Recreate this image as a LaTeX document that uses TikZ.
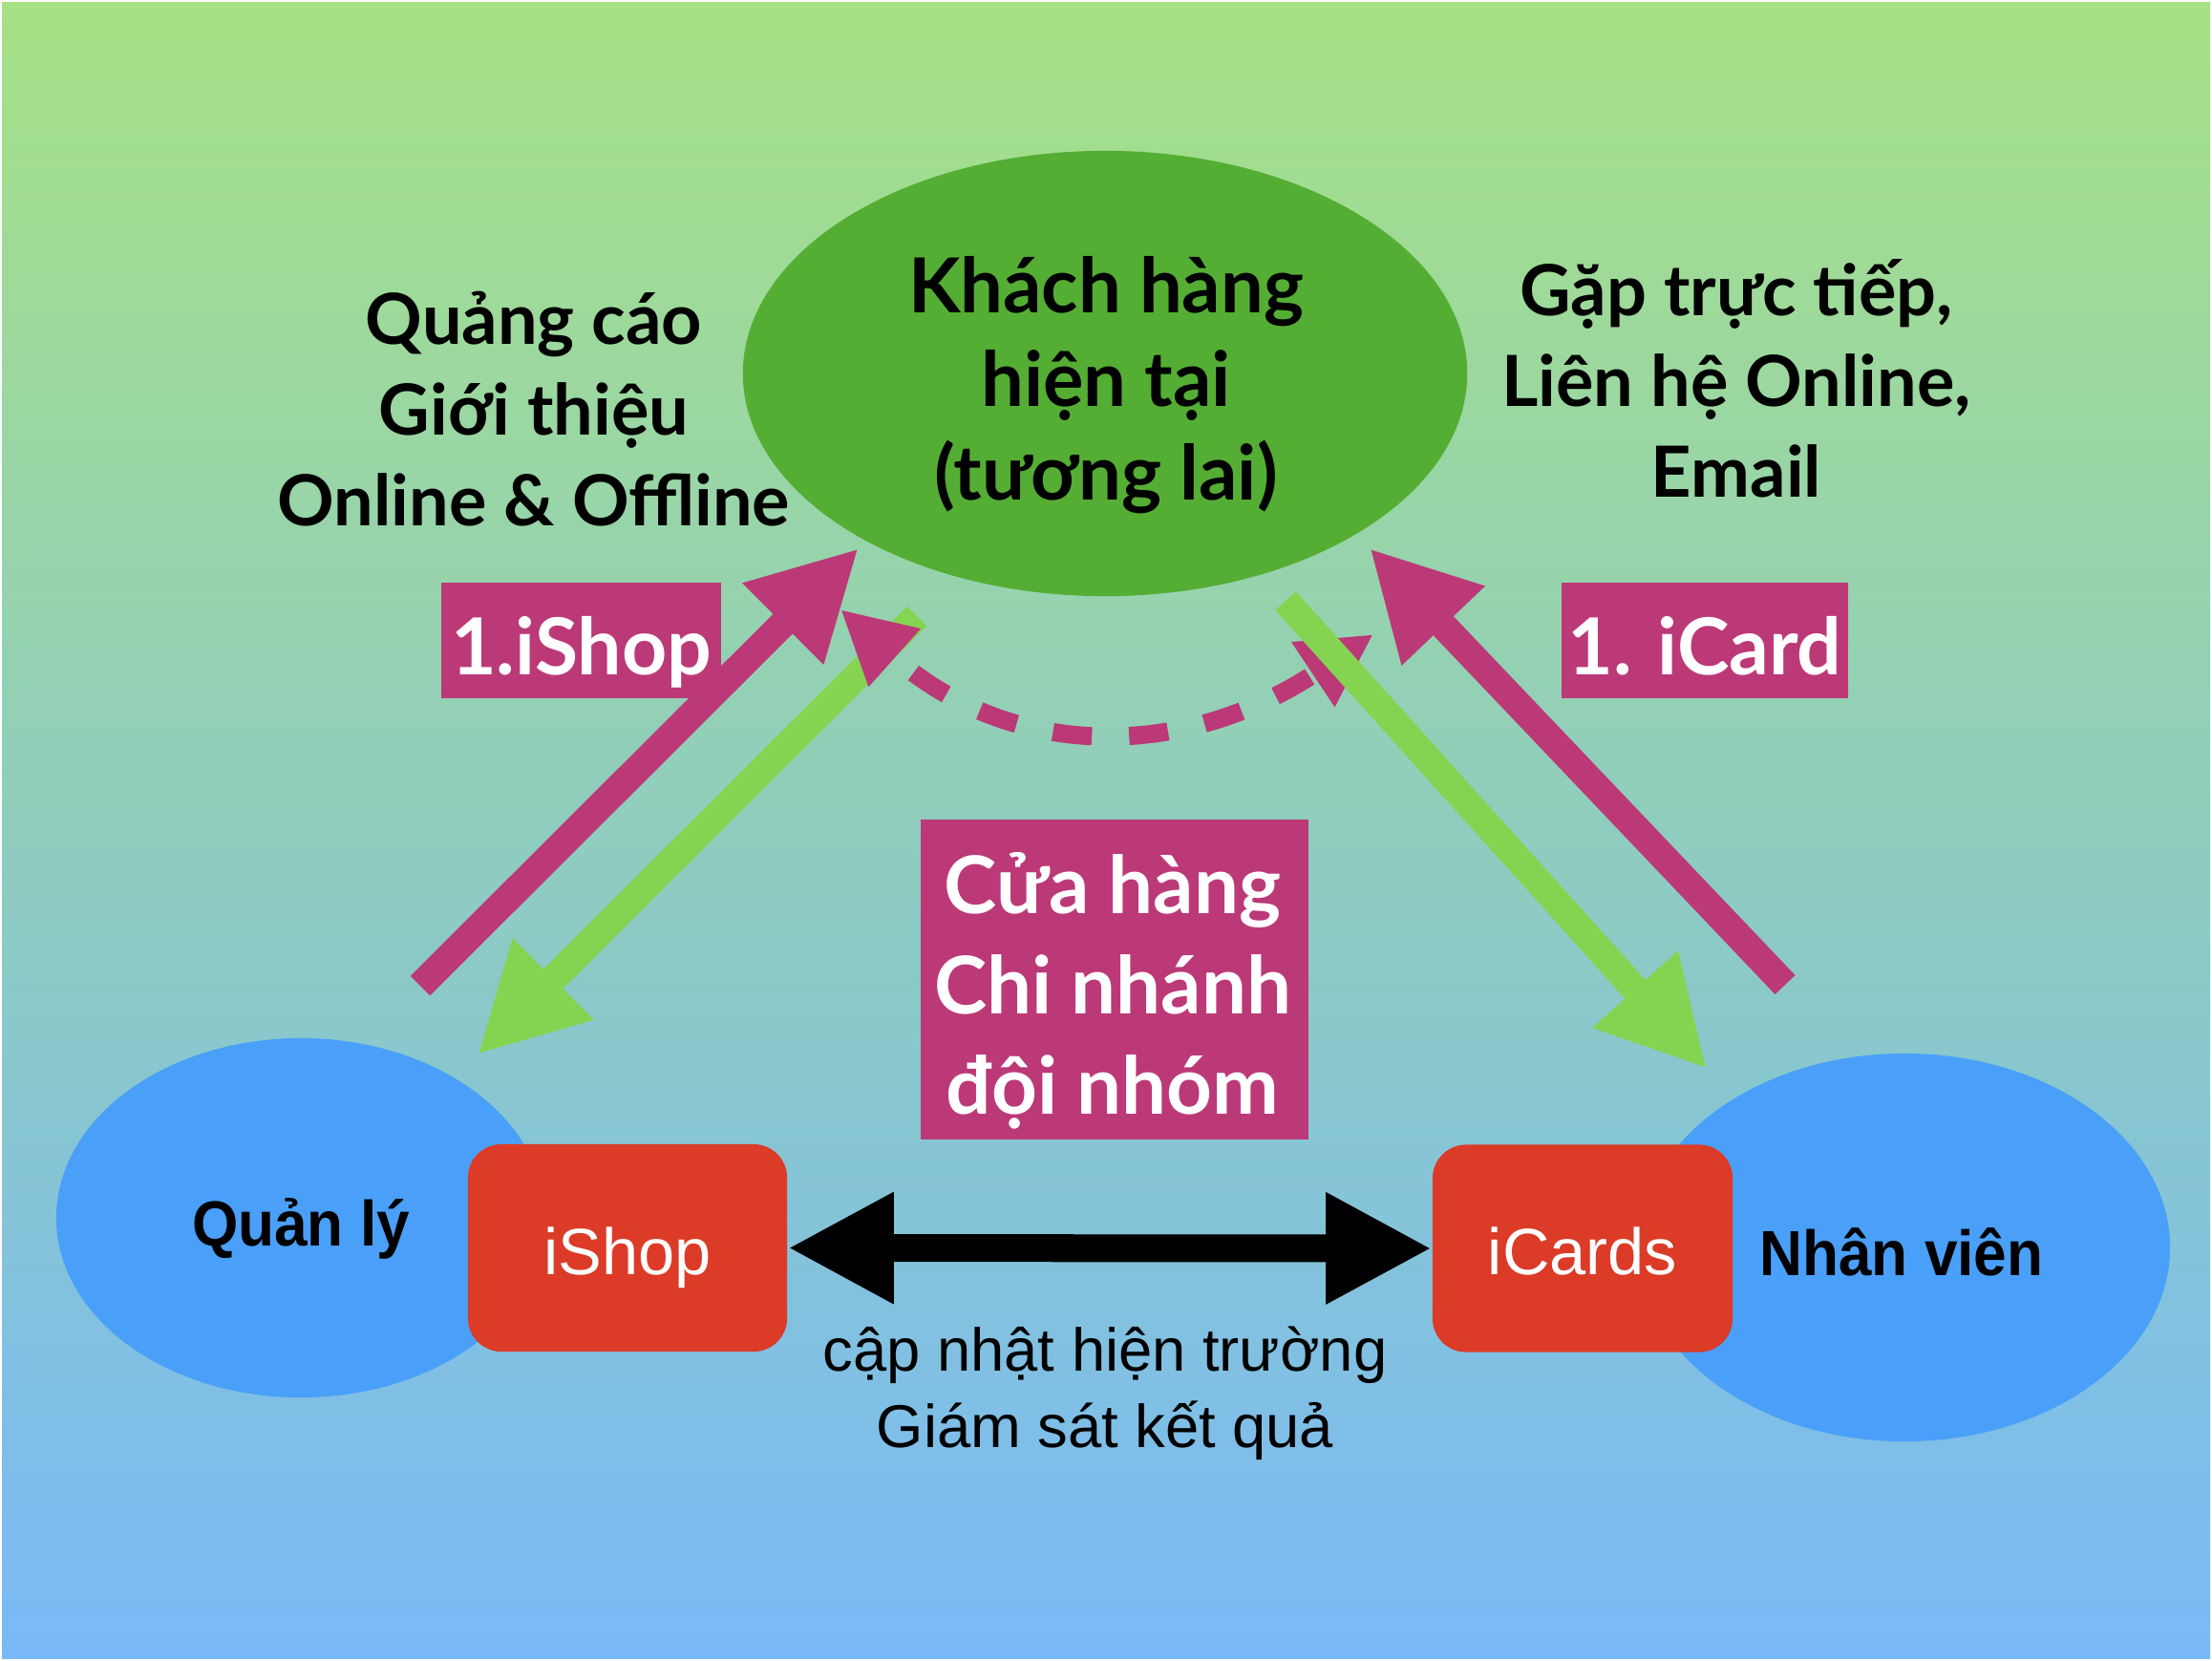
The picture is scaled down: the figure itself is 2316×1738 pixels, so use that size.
\documentclass[tikz,border=0pt]{standalone}
\usepackage{fontspec}
\setmainfont{Lato}
\newfontfamily\helv{Liberation Sans}
\newfontfamily\helvn[FakeStretch=0.93]{Liberation Sans}
\usetikzlibrary{arrows.meta,shapes.geometric}

\definecolor{bgtop}{RGB}{166,225,133}
\definecolor{bgbot}{RGB}{121,185,247}
\definecolor{kgreen}{RGB}{85,174,52}
\definecolor{lgreen}{RGB}{132,212,82}
\definecolor{kblue}{RGB}{74,160,248}
\definecolor{kred}{RGB}{219,59,39}
\definecolor{kpink}{RGB}{188,57,120}

\tikzset{
	blob/.style={ellipse,inner sep=0pt,draw=none},
	bigtxt/.style={font=\fontsize{22.6}{27}\selectfont\bfseries,anchor=base,inner sep=0pt},
	midtxt/.style={font=\fontsize{21}{25}\selectfont\bfseries,anchor=base,inner sep=0pt},
	boxtxt/.style={font=\fontsize{23.7}{28}\selectfont\bfseries,text=white,anchor=base,inner sep=0pt},
	roletxt/.style={font=\helvn\bfseries\fontsize{19}{23}\selectfont,anchor=base,inner sep=0pt},
	notetxt/.style={font=\helv\fontsize{18}{22}\selectfont,anchor=base,inner sep=0pt},
	app/.style={fill=kred,rounded corners=0.35cm,minimum height=2.17cm,text=white,
		font=\helv\fontsize{19.5}{23}\selectfont,text height=0.55cm,text depth=0cm,inner sep=0pt},
	tag/.style={fill=kpink,minimum height=1.21cm,text=white,
		font=\fontsize{23.4}{28}\selectfont\bfseries,text height=0.71cm,text depth=0cm,inner sep=0pt},
	fat/.style={line width=0.29cm,-{Triangle[length=1.12cm,width=1.12cm]}},
	dashline/.style={kpink,line width=0.19cm,dash pattern=on 0.41cm off 0.39cm,dash phase=0.5cm,
		{Triangle[length=0.76cm,width=0.76cm]}-{Triangle[length=0.76cm,width=0.76cm]}},
	dblarrow/.style={line width=0.29cm,{Triangle[length=1.11cm,width=1.09cm]}-{Triangle[length=1.11cm,width=1.09cm]}}
}

\begin{document}
\begin{tikzpicture}[x=0.01cm,y=-0.01cm]
	%BACKGROUND
	\fill[white] (0,0) rectangle (2316,1738);
	\shade[top color=bgtop,bottom color=bgbot] (2,2) rectangle (2314,1736);

	%ELLIPSES
	\node[blob,fill=kgreen,minimum width=7.58cm,minimum height=4.66cm] (cust) at (1157,391) {};
	\node[blob,fill=kblue,minimum width=5.12cm,minimum height=3.76cm] (mgr) at (315,1275) {};
	\node[blob,fill=kblue,minimum width=5.56cm,minimum height=4.06cm] (staff) at (1994,1306) {};

	%LABELS
	\foreach \t [count=\i] in {Khách hàng,hiện tại,(tương lai)}
	\node[bigtxt] (cust\i) at (1158,229+98*\i) {\t};
	\foreach \t [count=\i] in {Quảng cáo,Giới thiệu,Online \& Offline}
	\node[midtxt] (ads\i) at (559,265+95*\i) {\t};
	\foreach \t [count=\i] in {{Gặp trực tiếp,},{Liên hệ Online,},Email}
	\node[midtxt] (meet\i) at (1818,235+95*\i) {\t};
	\node[roletxt] (mgrlbl) at (315,1304) {Quản lý};
	\node[roletxt] (stafflbl) at (1991,1335) {Nhân viên};

	%APPS
	\node[app,minimum width=3.34cm] (ishop) at (657,1306.5) {iShop};
	\node[app,minimum width=3.14cm] (icards) at (1657,1307) {iCards};

	%PINK BOXES
	\node[tag,minimum width=2.93cm] (tshop) at (608.5,670.5) {1.iShop};
	\node[tag,minimum width=3.00cm] (tcard) at (1785,670.5) {1. iCard};
	\node[tag,minimum width=4.06cm,minimum height=3.35cm] (store) at (1167,1025.5) {};
	\foreach \t [count=\i] in {Cửa hàng,Chi nhánh,đội nhóm}
	\node[boxtxt] (store\i) at (1165,851+105*\i) {\t};

	%ARROW ENDS
	\coordinate (mgrout) at (440,1032);	\coordinate (custin) at (899,574);
	\coordinate (custout) at (960,645);	\coordinate (mgrin) at (500,1104);
	\coordinate (staffout) at (1869,1031);	\coordinate (custin2) at (1434,574);
	\coordinate (custout2) at (1346,629);	\coordinate (staffin) at (1787,1119);
	\coordinate (arcl) at (880,638);		\coordinate (arcr) at (1438,664);

	%ARROWS
	\draw[fat,lgreen] (custout)--(mgrin);
	\draw[dashline] (arcl) .. controls (1058,797) and (1240,796) .. (arcr);
	\draw[fat,lgreen] (custout2)--(staffin);
	\draw[fat,kpink] (mgrout)--(custin);
	\draw[fat,kpink] (staffout)--(custin2);
	\draw[dblarrow] (ishop.east)--(icards.west);
	\foreach \t [count=\i] in {cập nhật hiện trường,Giám sát kết quả}
	\node[notetxt] (note\i) at (1157,1355+80*\i) {\t};
\end{tikzpicture}
\end{document}
